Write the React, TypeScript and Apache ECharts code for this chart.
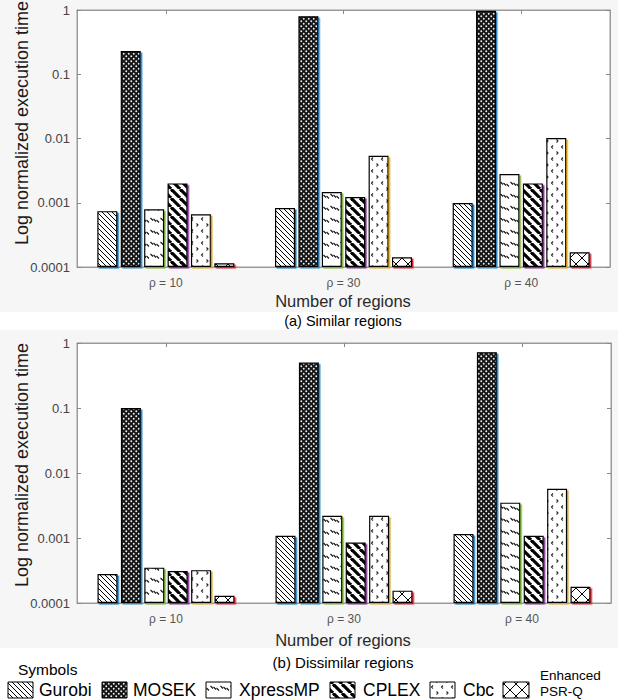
import React, { useEffect, useRef } from 'react';
import * as echarts from 'echarts';

// ---------- data ----------
const CATEGORIES = ['ρ = 10', 'ρ = 30', 'ρ = 40'];
const SOLVERS = ['Gurobi', 'MOSEK', 'XpressMP', 'CPLEX', 'Cbc', 'Enhanced PSR-Q'];
const Y_TICK_LABELS = ['0.0001', '0.001', '0.01', '0.1', '1'];

// (a) Similar regions
const SIM_GUROBI = [0.00074, 0.00083, 0.00099];
const SIM_MOSEK = [0.23, 0.8, 0.97];
const SIM_XPRESS = [0.00079, 0.00147, 0.0028];
const SIM_CPLEX = [0.002, 0.00123, 0.002];
const SIM_CBC = [0.00066, 0.0054, 0.0102];
const SIM_ENH = [0.000114, 0.000142, 0.00017];

// (b) Dissimilar regions
const DIS_GUROBI = [0.00028, 0.00108, 0.00115];
const DIS_MOSEK = [0.1, 0.5, 0.72];
const DIS_XPRESS = [0.00035, 0.0022, 0.0035];
const DIS_CPLEX = [0.00031, 0.00085, 0.00108];
const DIS_CBC = [0.00032, 0.0022, 0.0057];
const DIS_ENH = [0.000129, 0.000155, 0.000178];

const EDGE_COLORS = ['#0072BD', '#2f86c4', '#77AC30', '#7E2F8E', '#D9A21B', '#D0202A'];
const FONT = '"Liberation Sans", Arial, Helvetica, sans-serif';

function makePattern(kind: string) {
  const c = document.createElement('canvas');
  let w = 6;
  let h = 6;
  const size = (a: number, b: number) => {
    w = a;
    h = b;
    c.width = a;
    c.height = b;
  };
  const draw = () => c.getContext('2d') as CanvasRenderingContext2D;
  if (kind === 'gurobi') {
    size(5, 5);
    const g = draw();
    g.fillStyle = '#fff';
    g.fillRect(0, 0, w, h);
    g.strokeStyle = '#000';
    g.lineWidth = 1;
    for (const k of [-5, 0, 5]) {
      g.beginPath();
      g.moveTo(k, 0);
      g.lineTo(k + 5, 5);
      g.stroke();
    }
  } else if (kind === 'mosek') {
    size(5, 5);
    const g = draw();
    g.fillStyle = '#151515';
    g.fillRect(0, 0, w, h);
    g.fillStyle = '#f0f0f0';
    for (const [x, y] of [[1.25, 1.25], [3.75, 3.75]]) {
      g.beginPath();
      g.arc(x, y, 0.95, 0, Math.PI * 2);
      g.fill();
    }
  } else if (kind === 'xpress') {
    size(10, 12);
    const g = draw();
    g.fillStyle = '#fff';
    g.fillRect(0, 0, w, h);
    g.strokeStyle = '#111';
    g.lineWidth = 1.1;
    for (const [x, y] of [[0.5, 2], [3.5, 3], [6.5, 4]]) {
      g.beginPath();
      g.moveTo(x, y);
      g.lineTo(x + 2.5, y + 2.5);
      g.stroke();
    }
  } else if (kind === 'cplex') {
    size(9, 9);
    const g = draw();
    g.fillStyle = '#fff';
    g.fillRect(0, 0, w, h);
    g.strokeStyle = '#000';
    g.lineWidth = 3.2;
    for (const k of [-9, 0, 9]) {
      g.beginPath();
      g.moveTo(k, 0);
      g.lineTo(k + 9, 9);
      g.stroke();
    }
  } else if (kind === 'cbc') {
    size(10, 12);
    const g = draw();
    g.fillStyle = '#fff';
    g.fillRect(0, 0, w, h);
    g.strokeStyle = '#222';
    g.lineWidth = 1.1;
    g.beginPath();
    g.moveTo(3, 1.5);
    g.lineTo(1.5, 3);
    g.lineTo(3, 4.5);
    g.stroke();
    g.beginPath();
    g.moveTo(6.5, 7.5);
    g.lineTo(8, 9);
    g.lineTo(6.5, 10.5);
    g.stroke();
  } else {
    size(12, 12);
    const g = draw();
    g.fillStyle = '#fff';
    g.fillRect(0, 0, w, h);
    g.strokeStyle = '#000';
    g.lineWidth = 1;
    g.beginPath();
    g.moveTo(0, 0);
    g.lineTo(12, 12);
    g.moveTo(12, 0);
    g.lineTo(0, 12);
    g.stroke();
  }
  return { image: c, repeat: 'repeat', imageWidth: w, imageHeight: h } as any;
}

export default function App() {
  const ref = useRef<HTMLDivElement>(null);

  useEffect(() => {
    if (!ref.current) return;
    const chart = echarts.init(ref.current, null, { renderer: 'svg' });
    const patterns = ['gurobi', 'mosek', 'xpress', 'cplex', 'cbc', 'enh'].map(makePattern);

    const simData = [SIM_GUROBI, SIM_MOSEK, SIM_XPRESS, SIM_CPLEX, SIM_CBC, SIM_ENH];
    const disData = [DIS_GUROBI, DIS_MOSEK, DIS_XPRESS, DIS_CPLEX, DIS_CBC, DIS_ENH];

    const grids = [
      { left: 77, right: 16, top: 10, height: 257 },
      { left: 77, right: 15, top: 343, height: 260 },
    ];

    const tickLabel = (v: number) => {
      const idx = Math.round(Math.log10(v)) + 4;
      return Y_TICK_LABELS[idx] ?? '';
    };

    const xAxes: any[] = [];
    const yAxes: any[] = [];
    grids.forEach((_, gi) => {
      xAxes.push({
        type: 'category',
        gridIndex: gi,
        data: CATEGORIES,
        position: 'bottom',
        axisLine: { show: true, lineStyle: { color: '#9a9a9a', width: 1 } },
        axisTick: { show: false },
        axisLabel: { color: '#555', fontSize: 12, margin: 10, fontFamily: FONT },
      });
      xAxes.push({
        type: 'category',
        gridIndex: gi,
        data: CATEGORIES,
        position: 'top',
        axisLine: { show: true, lineStyle: { color: '#9a9a9a', width: 1 } },
        axisTick: { show: true, inside: true, alignWithLabel: true, length: 4, lineStyle: { color: '#888' } },
        axisLabel: { show: false },
      });
      const yBase = {
        type: 'log',
        logBase: 10,
        gridIndex: gi,
        min: 0.0001,
        max: 1,
        startValue: 0.0001,
        splitLine: { show: false },
        axisLine: { show: true, lineStyle: { color: '#9a9a9a', width: 1 } },
        axisTick: { show: true, inside: true, length: 4, lineStyle: { color: '#888' } },
      };
      yAxes.push({
        ...yBase,
        position: 'left',
        axisLabel: { color: '#444', fontSize: 13, margin: 7, fontFamily: FONT, formatter: tickLabel },
      });
      yAxes.push({ ...yBase, position: 'right', axisLabel: { show: false } });
    });

    const makeSeries = (data: number[][], gi: number) =>
      SOLVERS.map((name, i) => ({
        type: 'bar',
        name,
        xAxisIndex: gi * 2,
        yAxisIndex: gi * 2,
        data: data[i],
        barWidth: 20,
        barGap: '17%',
        silent: true,
        itemStyle: {
          color: patterns[i],
          borderColor: '#000',
          borderWidth: 1.2,
          shadowColor: EDGE_COLORS[i],
          shadowOffsetX: 1.5,
          shadowOffsetY: 1.5,
          shadowBlur: 0,
        },
      }));

    const txt = (text: string, x: number, y: number, fontSize: number, extra: any = {}) => ({
      type: 'text',
      x,
      y,
      silent: true,
      style: {
        text,
        fontSize,
        fontFamily: FONT,
        fill: extra.fill ?? '#1a1a1a',
        align: extra.align ?? 'center',
        verticalAlign: 'middle',
      },
      rotation: extra.rotation ?? 0,
      z: 10,
    });

    const legendItems = [
      { sw: 8, tx: 39 },
      { sw: 102, tx: 133 },
      { sw: 206, tx: 239 },
      { sw: 330, tx: 363 },
      { sw: 430, tx: 463 },
      { sw: 503, tx: 540 },
    ];

    const graphic: any[] = [
      { type: 'rect', shape: { x: 0, y: 0, width: 618, height: 312 }, style: { fill: '#f6f6f6' }, z: -10, silent: true },
      { type: 'rect', shape: { x: 0, y: 330, width: 618, height: 318 }, style: { fill: '#f6f6f6' }, z: -10, silent: true },
      txt('Log normalized execution time', 22, 123, 18, { rotation: Math.PI / 2 }),
      txt('Log normalized execution time', 22, 465, 18, { rotation: Math.PI / 2 }),
      txt('Number of regions', 343, 301, 16.5, { fill: '#2a2a2a' }),
      txt('(a) Similar regions', 343, 321, 14.5, { fill: '#000' }),
      txt('Number of regions', 343, 640, 16.5, { fill: '#2a2a2a' }),
      txt('(b) Dissimilar regions', 343, 662, 15, { fill: '#000' }),
      txt('Symbols', 18, 669, 15.5, { align: 'left', fill: '#000' }),
    ];
    legendItems.forEach((it, i) => {
      const isLast = i === SOLVERS.length - 1;
      graphic.push({
        type: 'rect',
        shape: { x: it.sw, y: 682, width: isLast ? 26 : 25, height: 16 },
        style: { fill: patterns[i], stroke: '#000', lineWidth: 1 },
        silent: true,
        z: 10,
      });
      if (isLast) {
        graphic.push(txt('Enhanced', it.tx, 675, 13.5, { align: 'left', fill: '#000' }));
        graphic.push(txt('PSR-Q', it.tx, 691, 13.5, { align: 'left', fill: '#000' }));
      } else {
        graphic.push(txt(SOLVERS[i], it.tx, 690, 17.5, { align: 'left', fill: '#000' }));
      }
    });

    chart.setOption({
      animation: false,
      backgroundColor: '#fff',
      textStyle: { fontFamily: FONT },
      grid: grids.map((g) => ({
        ...g,
        show: true,
        backgroundColor: '#fff',
        borderColor: '#9a9a9a',
        borderWidth: 1,
        containLabel: false,
      })),
      xAxis: xAxes,
      yAxis: yAxes,
      series: [...makeSeries(simData, 0), ...makeSeries(disData, 1)],
      graphic,
    });

    return () => chart.dispose();
  }, []);

  return (
    <div
      ref={ref}
      style={{ position: 'absolute', left: 0, top: 0, width: 626, height: 700 }}
    />
  );
}
